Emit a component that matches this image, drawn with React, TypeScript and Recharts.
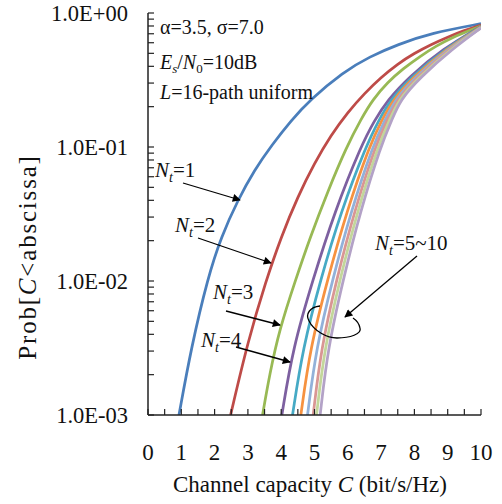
import { Line, LineChart, XAxis, YAxis } from "recharts";

const SERIF = '"Liberation Serif", "Times New Roman", serif';

const ntNames = ["1", "2", "3", "4", "5", "6", "7", "8", "9", "10"];
const colors = [
  "#4A7EBB", "#BE4B48", "#98B954", "#7D60A0", "#46AAC5",
  "#F69240", "#92B1D9", "#D99694", "#C3D69B", "#B3A2C7",
];

// capacity (bit/s/Hz) and Prob[C<abscissa]
const nt1Cap = [0.93, 1.3, 1.8, 2.2, 2.69, 3.2, 3.72, 4.3, 4.86, 5.86, 6.66, 7.5, 8.5, 10];
const nt1Prob = [0.001, 0.0032, 0.0107, 0.0214, 0.0398, 0.0676, 0.1035, 0.158, 0.224, 0.363, 0.473, 0.582, 0.708, 0.832];
const nt2Cap = [2.48, 3.0, 3.54, 4.0, 4.5, 5.0, 5.5, 6.0, 6.5, 7.0, 7.5, 8.0, 8.5, 9.0, 9.5, 10];
const nt2Prob = [0.001, 0.00355, 0.01, 0.0214, 0.0427, 0.0759, 0.123, 0.182, 0.251, 0.331, 0.417, 0.501, 0.582, 0.661, 0.741, 0.813];
const nt3Cap = [3.44, 3.65, 3.95, 4.42, 4.86, 5.4, 5.96, 6.4, 6.75, 7.2, 7.66, 8.16, 8.66, 9.16, 9.66, 10];
const nt3Prob = [0.001, 0.002, 0.00437, 0.01, 0.0209, 0.0468, 0.1, 0.162, 0.226, 0.305, 0.384, 0.473, 0.569, 0.661, 0.741, 0.8];
const nt4Cap = [4.02, 4.35, 4.95, 5.6, 6.41, 6.8, 7.2, 7.82, 8.86, 10];
const nt5Cap = [4.34, 4.65, 5.18, 5.79, 6.56, 6.93, 7.28, 7.89, 8.92, 10];
const nt6Cap = [4.59, 4.87, 5.39, 5.96, 6.66, 7.02, 7.35, 7.95, 8.97, 10];
const nt7Cap = [4.79, 5.05, 5.54, 6.09, 6.76, 7.11, 7.41, 8.01, 9.02, 10];
const nt8Cap = [4.96, 5.2, 5.66, 6.19, 6.84, 7.18, 7.47, 8.07, 9.07, 10];
const nt9Cap = [5.06, 5.3, 5.76, 6.28, 6.92, 7.25, 7.52, 8.12, 9.11, 10];
const nt10Cap = [5.17, 5.4, 5.86, 6.37, 7.0, 7.32, 7.57, 8.17, 9.15, 10];
// Nt=4..10 are read at the same probability levels; only the end value at C=10 differs
const bundleProb = [0.001, 0.00316, 0.0102, 0.0327, 0.1035, 0.158, 0.224, 0.33, 0.542];
const bundleEndProb = [0.795, 0.79, 0.786, 0.782, 0.779, 0.776, 0.773];

const bundleCaps = [nt4Cap, nt5Cap, nt6Cap, nt7Cap, nt8Cap, nt9Cap, nt10Cap];
const capArrays = [nt1Cap, nt2Cap, nt3Cap, ...bundleCaps];
const probArrays = [
  nt1Prob,
  nt2Prob,
  nt3Prob,
  ...bundleEndProb.map((end) => [...bundleProb, end]),
];

const xTicks = [0, 0.5, 1, 1.5, 2, 2.5, 3, 3.5, 4, 4.5, 5, 5.5, 6, 6.5, 7, 7.5, 8, 8.5, 9, 9.5, 10];
const decades = [0.001, 0.01, 0.1, 1];
const decadeLabels = ["1.0E-03", "1.0E-02", "1.0E-01", "1.0E+00"];
const minorSteps = [1, 2, 3, 4, 5, 6, 7, 8, 9];
const yTicks = [...decades.slice(0, 3).flatMap((d) => minorSteps.map((m) => +(d * m).toPrecision(3))), 1];

const series = capArrays.map((caps, i) =>
  caps.map((c, j) => ({ c, p: probArrays[i][j] }))
);

const AXIS = "#222";

const YTick = (props: any) => {
  const { x, y, payload } = props;
  const i = decades.findIndex((d) => Math.abs(d - payload.value) < 1e-9);
  return (
    <g>
      <line x1={x} x2={x + 6} y1={y} y2={y} stroke={AXIS} strokeWidth={1.2} />
      {i >= 0 && (
        <text x={x - 20} y={y + 7.5} textAnchor="end" fontFamily={SERIF} fontSize={22.5} fill="#111">
          {decadeLabels[i]}
        </text>
      )}
    </g>
  );
};

const XTick = (props: any) => {
  const { x, y, payload } = props;
  const v = payload.value;
  return (
    <g>
      <line x1={x} x2={x} y1={y} y2={y - 6} stroke={AXIS} strokeWidth={1.2} />
      {Number.isInteger(v) && (
        <text x={x} y={y + 45} textAnchor="middle" fontFamily={SERIF} fontSize={23} fill="#111">
          {v}
        </text>
      )}
    </g>
  );
};

const NtLabel = ({ x, y, value }: { x: number; y: number; value: string }) => (
  <text x={x} y={y} fontFamily={SERIF} fontSize={21} fill="#111">
    <tspan fontStyle="italic">N</tspan>
    <tspan fontStyle="italic" fontSize={14} dy={5}>t</tspan>
    <tspan dy={-5}>={value}</tspan>
  </text>
);

const Overlay = () => (
  <svg width={502} height={504} style={{ position: "absolute", left: 0, top: 0, pointerEvents: "none" }}>
    <defs>
      <marker id="arrow" viewBox="0 0 10 10" refX="9" refY="5" markerWidth="10" markerHeight="8" markerUnits="userSpaceOnUse" orient="auto">
        <path d="M0,0 L10,5 L0,10 z" fill="#000" />
      </marker>
    </defs>
    <g fontFamily={SERIF} fontSize={20} fill="#111">
      <text x={160} y={34}>α=3.5, σ=7.0</text>
      <text x={160} y={69}>
        <tspan fontStyle="italic">E</tspan>
        <tspan fontStyle="italic" fontSize={13} dy={4}>s</tspan>
        <tspan dy={-4}>/</tspan>
        <tspan fontStyle="italic">N</tspan>
        <tspan fontSize={13} dy={4}>0</tspan>
        <tspan dy={-4}>=10dB</tspan>
      </text>
      <text x={160} y={99}>
        <tspan fontStyle="italic">L</tspan>=16-path uniform
      </text>
    </g>
    <NtLabel x={155} y={177} value="1" />
    <NtLabel x={175} y={232} value="2" />
    <NtLabel x={213} y={299} value="3" />
    <NtLabel x={201} y={347} value="4" />
    <NtLabel x={375} y={250} value="5~10" />
    <g stroke="#000" strokeWidth={1.3} fill="none">
      <line x1={183} y1={183} x2={240} y2={200} markerEnd="url(#arrow)" />
      <line x1={198} y1={238} x2={271} y2={263} markerEnd="url(#arrow)" />
      <line x1={226} y1={311} x2={280} y2={325} markerEnd="url(#arrow)" />
      <line x1={236} y1={347} x2={290} y2={362} markerEnd="url(#arrow)" />
      <line x1={417} y1={256} x2={345} y2={317} markerEnd="url(#arrow)" />
      <path d="M320,306 C310,307 305,314 309,321 C314,331 327,338 337,338 C350,338 362,334 360,328 C359,323 356,320 353,318" />
    </g>
    <text
      x={27}
      y={257}
      transform="rotate(-90, 27, 257)"
      textAnchor="middle"
      dominantBaseline="central"
      fontFamily={SERIF}
      fontSize={25}
      letterSpacing={1.8}
      fill="#111"
    >
      Prob[<tspan fontStyle="italic">C</tspan>&lt;abscissa]
    </text>
    <text x={310} y={492} textAnchor="middle" fontFamily={SERIF} fontSize={23} fill="#111">
      Channel capacity <tspan fontStyle="italic">C</tspan> (bit/s/Hz)
    </text>
  </svg>
);

export default function App() {
  return (
    <div style={{ position: "absolute", left: 0, top: 0, width: 502, height: 504, background: "#fff" }}>
      <LineChart width={502} height={504} margin={{ top: 13, right: 21, left: 0, bottom: 0 }}>
        <XAxis
          dataKey="c"
          type="number"
          domain={[0, 10]}
          ticks={xTicks}
          interval={0}
          height={89}
          tickSize={0}
          tickMargin={0}
          tickLine={false}
          tick={<XTick />}
          axisLine={{ stroke: AXIS, strokeWidth: 1.5 }}
          allowDataOverflow
        />
        <XAxis xAxisId="top" orientation="top" type="number" domain={[0, 10]} height={0} tick={false} tickLine={false} axisLine={{ stroke: AXIS, strokeWidth: 1.5 }} />
        <YAxis
          type="number"
          scale="log"
          domain={[0.001, 1]}
          ticks={yTicks}
          interval={0}
          width={148}
          tickSize={0}
          tickMargin={0}
          tickLine={false}
          tick={<YTick />}
          axisLine={{ stroke: AXIS, strokeWidth: 1.5 }}
          allowDataOverflow
        />
        <YAxis yAxisId="right" orientation="right" type="number" domain={[0, 1]} width={0} tick={false} tickLine={false} axisLine={{ stroke: AXIS, strokeWidth: 1.5 }} />
        {series.map((d, i) => (
          <Line
            key={ntNames[i]}
            data={d}
            dataKey="p"
            name={`Nt=${ntNames[i]}`}
            type="basis"
            stroke={colors[i]}
            strokeWidth={2.75}
            dot={false}
            isAnimationActive={false}
          />
        ))}
      </LineChart>
      <Overlay />
    </div>
  );
}
